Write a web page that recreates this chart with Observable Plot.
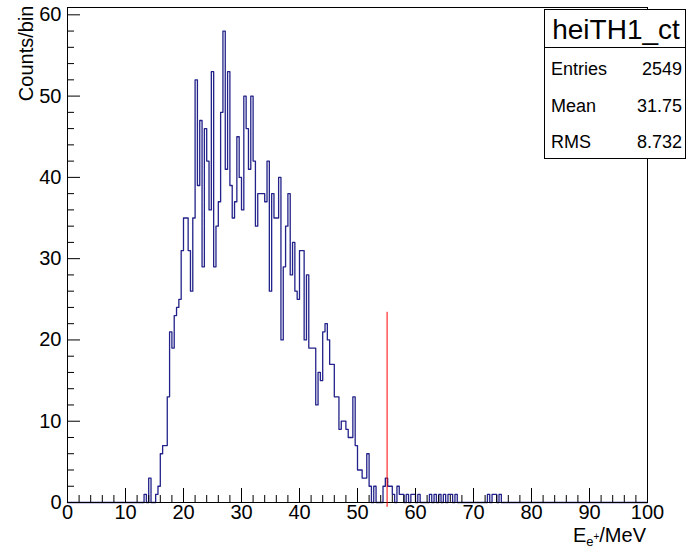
<!DOCTYPE html>
<html><head><meta charset="utf-8">
<script src="https://cdn.jsdelivr.net/npm/d3@7"></script>
<script src="https://cdn.jsdelivr.net/npm/@observablehq/plot@0.6"></script>
<style>
html,body{margin:0;padding:0;background:#fff;}
#chart{position:relative;width:687px;height:548px;}
</style></head><body><div id="chart"></div>
<script>
// ---- data ----
const binWidth = 0.4;
const xMin = 0, xMax = 100;
const firstBinLow = 13.2;           // low edge of the first listed bin
const counts = [
  1,0,3,0,0,1,2,6,7,7,
  13,21,19,23,24,25,31,35,35,31,
  26,35,52,39,47,29,46,42,36,53,
  29,34,37,48,58,41,53,39,35,37,
  45,40,36,50,46,41,50,42,34,38,
  38,38,37,42,26,38,35,35,40,20,
  29,34,38,28,32,26,25,31,31,20,
  28,19,19,19,12,16,15,21,22,20,
  17,17,13,13,9,10,10,9,8,8,
  13,7,4,4,3,3,6,2,0,2,
  0,0,0,2,3,2,2,1,0,2,
  1,1,0,1,0,1,1,0,1,0,
  0,0,0,1,0,1,0,1,0,1,
  0,1,1,0,1,0,0,0,0,0,
  0,0,0,0,0,0,0,0,1,0,
  1,1,0,1
];
const yMax = 60.9;
const xMajorTicks = [0,10,20,30,40,50,60,70,80,90,100];
const xMinorTicks = d3.range(2, 100, 2).filter(v => v % 10 !== 0);
const yMajorTicks = [0,10,20,30,40,50,60];
const yMinorTicks = d3.range(2, 61, 2).filter(v => v % 10 !== 0);
const cutValue = 55.1;
const cutRange = [-0.6, 23.4];
const yTitle = "Counts/bin";
const xTitleMain = "E", xTitleSub = "e", xTitleSup = "+", xTitleUnit = "/MeV";
const statsTitle = "heiTH1_ct";
const statsLabels = ["Entries", "Mean", "RMS"];
const statsValues = ["2549", "31.75", "8.732"];

// ---- build histogram steps ----
const nBins = Math.round((xMax - xMin) / binWidth);
const startIdx = Math.round((firstBinLow - xMin) / binWidth);
const hist = d3.range(nBins).map(i => ({
  x: xMin + i * binWidth,
  y: (i >= startIdx && i - startIdx < counts.length) ? counts[i - startIdx] : 0
}));
hist.push({x: xMax, y: 0});

const W = 687, H = 548, mL = 67, mR = 40, mT = 7, mB = 46;
const plotW = W - mL - mR, plotH = H - mT - mB;
const FONT = "'Liberation Sans', Arial, Helvetica, sans-serif";

const svg = Plot.plot({
  width: W, height: H,
  marginLeft: mL, marginRight: mR, marginTop: mT, marginBottom: mB,
  x: {domain: [xMin, xMax]},
  y: {domain: [0, yMax]},
  style: {fontFamily: FONT, fontSize: "20px", background: "white", color: "black", overflow: "visible"},
  marks: [
    Plot.line(hist, {x: "x", y: "y", curve: "step-after", stroke: "#22228a", strokeWidth: 1.3}),
    Plot.frame({stroke: "black", strokeWidth: 1}),
    Plot.tickX(xMajorTicks, {x: d => d, insetTop: plotH - 14, stroke: "black"}),
    Plot.tickX(xMinorTicks, {x: d => d, insetTop: plotH - 7, stroke: "black"}),
    Plot.tickY(yMajorTicks, {y: d => d, insetRight: plotW - 13, stroke: "black"}),
    Plot.tickY(yMinorTicks, {y: d => d, insetRight: plotW - 7, stroke: "black"}),
    Plot.axisX(xMajorTicks, {tickSize: 0, tickPadding: 2, fontSize: 20, label: null}),
    Plot.axisY(yMajorTicks, {tickSize: 0, tickPadding: 6, fontSize: 20, label: null}),
    Plot.ruleX([cutValue], {y1: cutRange[0], y2: cutRange[1], stroke: "red", strokeWidth: 1}),
    Plot.text([yTitle], {frameAnchor: "top-left", text: d => d, rotate: -90, textAnchor: "end",
      lineAnchor: "bottom", dx: -35, dy: -2, fontSize: 20})
  ]
});

// x-axis title with sub/superscript
const xs = svg.scale("x");
const xt = d3.select(svg).append("text")
  .attr("x", xs.apply(xMax) - 1).attr("y", H - 6)
  .attr("text-anchor", "end").attr("font-family", FONT).attr("font-size", 20).attr("fill", "black");
xt.append("tspan").text(xTitleMain);
xt.append("tspan").attr("font-size", 13).attr("dy", 3.5).text(xTitleSub);
xt.append("tspan").attr("font-size", 10).attr("dy", -6).text(xTitleSup);
xt.append("tspan").attr("font-size", 20).attr("dy", 2.5).text(xTitleUnit);

// stats box
const g = d3.select(svg).append("g").attr("font-family", FONT).attr("fill", "black");
const bx = 544.5, by = 9.5, bw = 141, bh = 149;
g.append("rect").attr("x", bx).attr("y", by).attr("width", bw).attr("height", bh)
  .attr("fill", "white").attr("stroke", "black").attr("stroke-width", 1);
g.append("line").attr("x1", bx).attr("x2", bx + bw).attr("y1", 47.5).attr("y2", 47.5)
  .attr("stroke", "black").attr("stroke-width", 1);
g.append("text").attr("x", bx + bw / 2 + 1).attr("y", 39).attr("text-anchor", "middle")
  .attr("font-size", 28).text(statsTitle);
const rowY = [75, 111.5, 148];
statsLabels.forEach((lab, i) => {
  g.append("text").attr("x", 551).attr("y", rowY[i]).attr("text-anchor", "start").attr("font-size", 18).text(lab);
  g.append("text").attr("x", 682).attr("y", rowY[i]).attr("text-anchor", "end").attr("font-size", 18).text(statsValues[i]);
});

document.getElementById("chart").appendChild(svg);
</script></body></html>
